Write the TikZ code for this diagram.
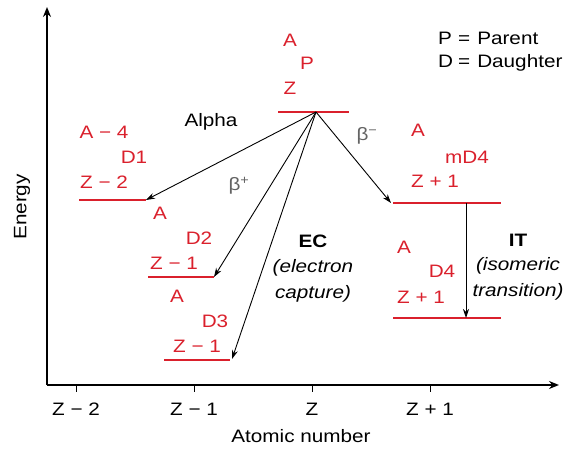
\documentclass[tikz,border=0pt]{standalone}
\usepackage{fontspec}
\setmainfont{Liberation Sans}[FakeStretch=1.15]
\usetikzlibrary{arrows.meta}
\definecolor{lvlred}{RGB}{218,32,44}
\definecolor{greek}{RGB}{100,100,100}
\begin{document}
\begin{tikzpicture}[x=1pt,y=-1pt,
  every node/.style={font=\fontsize{18}{21}\selectfont, inner sep=0pt},
  lbl/.style={text=lvlred},
  lvl/.style={draw=lvlred, line width=2.4pt},
  axis/.style={draw=black, line width=1.8pt, -{Stealth[length=10pt,width=8pt]}},
  decay/.style={draw=black, line width=0.9pt, -{Stealth[length=9pt,width=6pt]}},
  tick/.style={draw=black, line width=1pt}]
\useasboundingbox (0,0) rectangle (576,449);
% axes
\coordinate (O) at (47,385);
\coordinate (Ytop) at (47,7);
\coordinate (Xend) at (559,385);
\draw[axis] (O) -- (Ytop);
\draw[axis] (O) -- (Xend);
% ticks
\foreach \n/\x/\t in {t1/76/Z − 2, t2/194/Z − 1, t3/312/Z, t4/430/Z + 1}{
  \coordinate (\n a) at (\x,385);
  \coordinate (\n b) at (\x,392);
  \draw[tick] (\n a) -- (\n b);
  \node (\n l) at (\x,409) {\t};
}
\node (xlab) at (301,436) {Atomic number};
\node[rotate=90] (ylab) at (22,207) {Energy};
% levels
\coordinate (Pl) at (278,112); \coordinate (Pr) at (349,112); \coordinate (Pc) at (316,112);
\coordinate (D1l) at (79,200); \coordinate (D1r) at (146,200);
\coordinate (D2l) at (148,277); \coordinate (D2r) at (214,277);
\coordinate (D3l) at (164,360); \coordinate (D3r) at (230,360);
\coordinate (M4l) at (393,203); \coordinate (M4r) at (501,203);
\coordinate (D4l) at (393,318); \coordinate (D4r) at (501,318);
\coordinate (ITa) at (466,203); \coordinate (ITb) at (466,318);
\draw[lvl] (Pl) -- (Pr);
\draw[lvl] (D1l) -- (D1r);
\draw[lvl] (D2l) -- (D2r);
\draw[lvl] (D3l) -- (D3r);
\draw[lvl] (M4l) -- (M4r);
\draw[lvl] (D4l) -- (D4r);
% decays
\coordinate (D3t) at (232,359);
\coordinate (M4t) at (391,203);
\draw[decay] (Pc) -- (D1r);
\draw[decay] (Pc) -- (D2r);
\draw[decay] (Pc) -- (D3t);
\draw[decay] (Pc) -- (M4t);
\draw[decay] (ITa) -- (ITb);
% level labels
\node[lbl] (pA) at (290,40) {A};
\node[lbl] (pP) at (307,63) {P};
\node[lbl] (pZ) at (290,88) {Z};
\node[lbl] (d1A) at (104,132) {A − 4};
\node[lbl] (d1D) at (134,157) {D1};
\node[lbl] (d1Z) at (104,182) {Z − 2};
\node[lbl] (d2A) at (160,213) {A};
\node[lbl] (d2D) at (199,238) {D2};
\node[lbl] (d2Z) at (174,263) {Z − 1};
\node[lbl] (d3A) at (177,296) {A};
\node[lbl] (d3D) at (215,321) {D3};
\node[lbl] (d3Z) at (197,346) {Z − 1};
\node[lbl] (m4A) at (418,130) {A};
\node[lbl] (m4D) at (467,157) {mD4};
\node[lbl] (m4Z) at (435,181) {Z + 1};
\node[lbl] (d4A) at (404,247) {A};
\node[lbl] (d4D) at (442,271) {D4};
\node[lbl] (d4Z) at (421,297) {Z + 1};
% decay labels
\node (alpha) at (211,122) {Alpha};
\node[text=greek] (bplus) at (239,186) {β\textsuperscript{+}};
\node[text=greek] (bminus) at (367,136) {β\textsuperscript{−}};
\node[font=\fontsize{18}{21}\selectfont\bfseries] (ec) at (313,241) {EC};
\node[font=\fontsize{18}{21}\selectfont\itshape] (ec2) at (313,268) {(electron};
\node[font=\fontsize{18}{21}\selectfont\itshape] (ec3) at (313,294) {capture)};
\node[font=\fontsize{18}{21}\selectfont\bfseries] (it) at (518,240) {IT};
\node[font=\fontsize{18}{21}\selectfont\itshape] (it2) at (518,266) {(isomeric};
\node[font=\fontsize{18}{21}\selectfont\itshape] (it3) at (518,292) {transition)};
% legend
\node[anchor=west] (leg1) at (438,38) {\makebox[20pt][l]{P}=\hspace{7pt}Parent};
\node[anchor=west] (leg2) at (438,63) {\makebox[20pt][l]{D}=\hspace{7pt}Daughter};
\end{tikzpicture}
\end{document}
